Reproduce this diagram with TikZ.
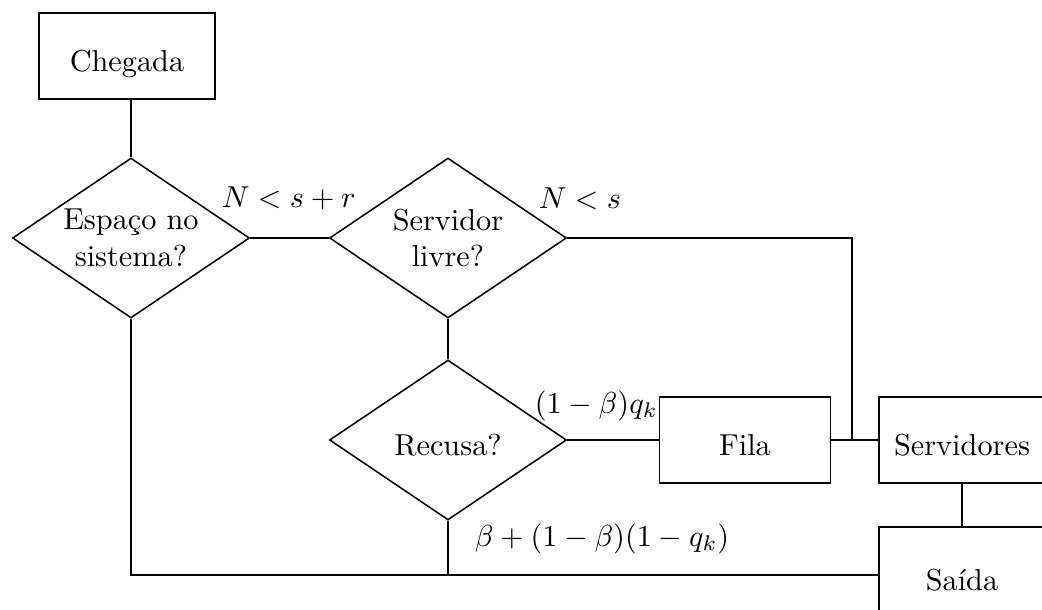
\documentclass[tikz,border=0pt]{standalone}
\usepackage{fontspec}
\usetikzlibrary{shapes.geometric}
\begin{document}
\begin{tikzpicture}[x=0.33pt,y=-0.33pt, line width=0.5pt,
  box/.style={draw, rectangle, inner sep=0pt, minimum height=86*0.33pt, text height=10.5pt, text depth=0pt},
  dec/.style={draw, diamond, aspect=1.48, inner sep=0pt, minimum width=237*0.33pt, minimum height=160*0.33pt, align=center},
  lab/.style={inner sep=0pt, anchor=base west}]
\clip (0,0) rectangle (1042,610);
\fill[white] (0,0) rectangle (1042,610);
% nodes
\node[box, minimum width=176*0.33pt] (cheg) at (127,56) {Chegada};
\node[dec] (d1) at (131,238) {Espaço no\\sistema?};
\node[dec] (d2) at (448,238) {Servidor\\livre?};
\node[dec, text height=10.5pt, text depth=0pt] (d3) at (448,440) {Recusa?};
\node[box, minimum width=171*0.33pt] (fila) at (745,440) {Fila};
\node[box, minimum width=166*0.33pt] (serv) at (962,440) {Servidores};
\node[box, minimum width=166*0.33pt, minimum height=96*0.33pt] (saida) at (962,575) {Saída};
\coordinate (j) at (852,440);
% labels
\node[lab] (l1) at (221,207) {$N<s+r$};
\node[lab] (l2) at (538,208) {$N<s$};
\node[lab] (l3) at (534,413) {$(1-\beta)q_k$};
\node[lab] (l4) at (474,546) {$\beta+(1-\beta)(1-q_k)$};
% connectors
\draw (cheg.south -| d1.north) -- (d1.north);
\draw (d1.east) -- (d2.west);
\draw (d2.east) -| (j);
\draw (fila.east) -- (serv.west);
\draw (d2.south) -- (d3.north);
\draw (d3.east) -- (fila.west);
\draw (serv.south) -- (saida.north);
\draw (d1.south) |- (saida.west);
\draw (d3.south) -- (d3.south |- saida.west);
\end{tikzpicture}
\end{document}
